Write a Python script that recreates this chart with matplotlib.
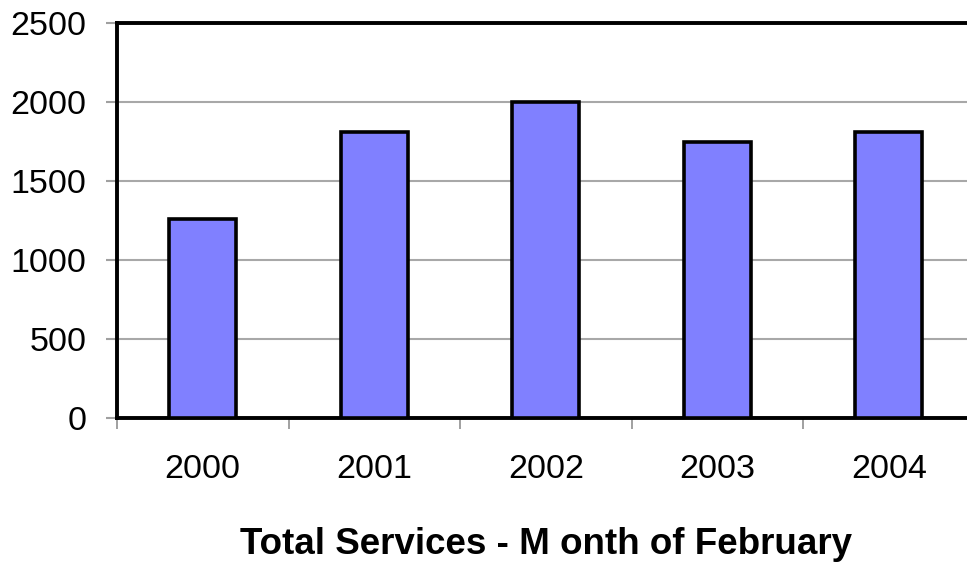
import numpy as np
import matplotlib.pyplot as plt

plt.rcParams['font.family'] = ['Liberation Sans', 'DejaVu Sans']

# data
years = ['2000', '2001', '2002', '2003', '2004']
services = [1260, 1810, 2000, 1745, 1810]

fig = plt.figure(figsize=(9.67, 5.63), dpi=100)
ax = fig.add_axes([117 / 967, (563 - 418) / 563, 857.5 / 967, 395 / 563])

x = np.arange(len(years))
ax.bar(x, services, width=0.39, color='#8080FF', edgecolor='black', linewidth=2.6, zorder=3)

ax.set_xlim(-0.5, 4.5)
ax.set_ylim(0, 2500)
ax.set_yticks(np.arange(0, 2501, 500))
ax.yaxis.grid(True, color='#a8a8a8', linewidth=1.5, zorder=0)

ax.set_xticks(x)
ax.set_xticklabels(years)
ax.set_xticks(np.arange(-0.5, 4.6, 1), minor=True)
ax.tick_params(axis='x', which='major', length=0, pad=26, labelsize=24.5)
ax.tick_params(axis='x', which='minor', length=8, width=1.2, color='#909090')
ax.tick_params(axis='y', length=8, width=1.5, color='#a0a0a0', pad=14, labelsize=24.5)

for s in ax.spines.values():
    s.set_linewidth(2.8)
    s.set_color('black')
ax.spines['top'].set_zorder(4)

ax.set_xlabel('Total Services - M onth of February', fontsize=26.5, fontweight='bold', labelpad=30)

fig.savefig('out.png', dpi=100)
